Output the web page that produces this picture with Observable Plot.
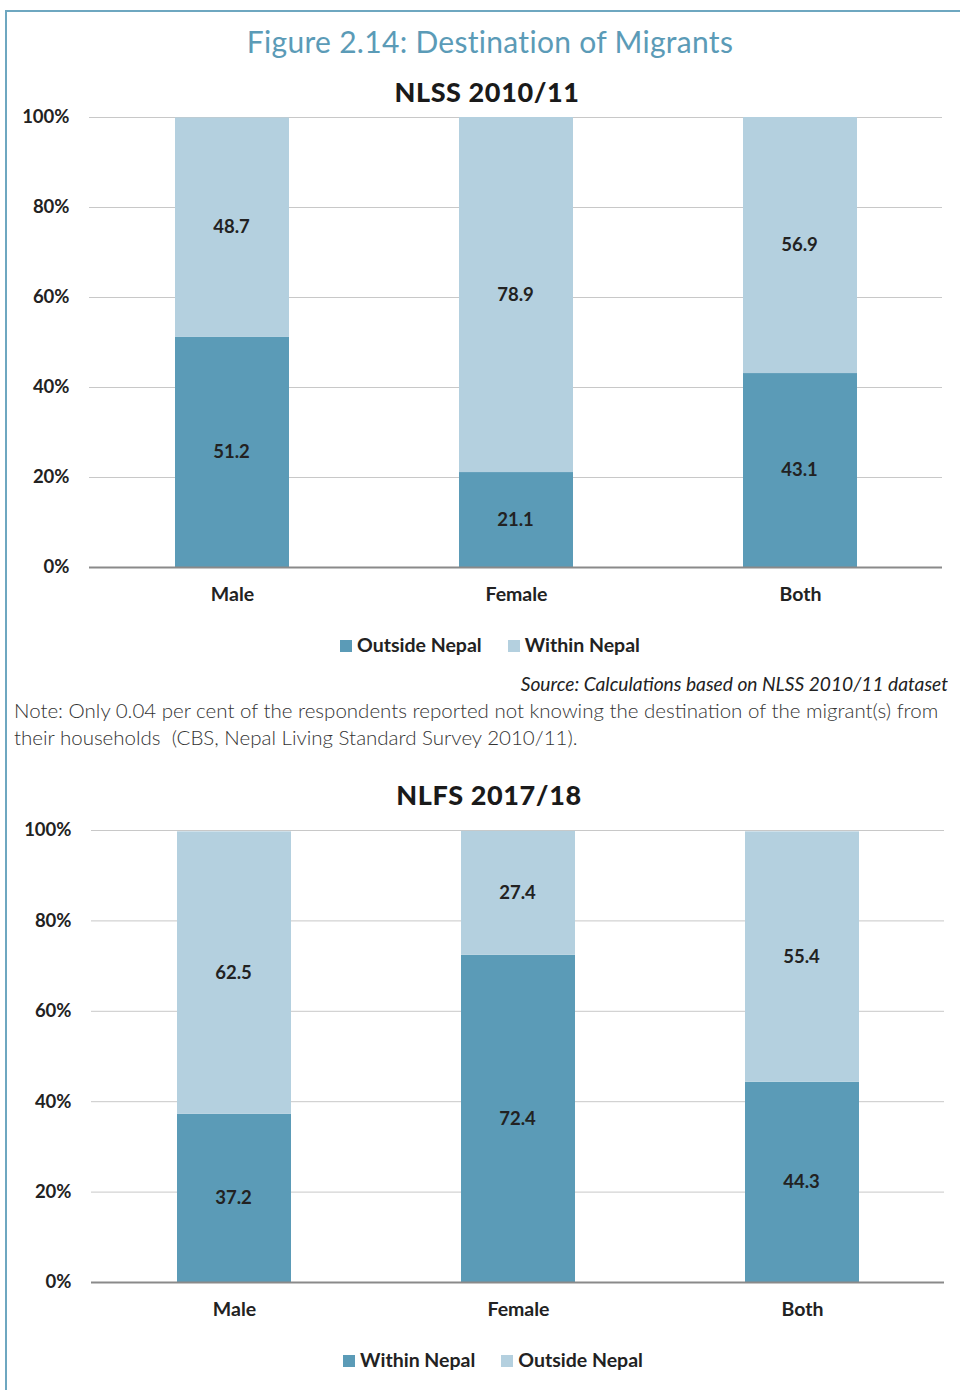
<!DOCTYPE html>
<html><head><meta charset="utf-8">
<script src="https://cdn.jsdelivr.net/npm/d3@7"></script>
<script src="https://cdn.jsdelivr.net/npm/@observablehq/plot@0.6"></script>
<style>
body{margin:0;background:#fff;}
#page{position:relative;width:960px;height:1390px;overflow:hidden;font-family:Lato,"Open Sans",sans-serif;color:#222;}
.frameTop{position:absolute;left:5px;top:10px;width:960px;height:2px;background:#6ea7c0;}
.frameLeft{position:absolute;left:5px;top:10px;width:2px;height:1390px;background:#6ea7c0;}
.abs{position:absolute;white-space:nowrap;}
.title{left:20px;width:940px;top:22px;text-align:center;font-size:30px;line-height:38px;color:#5b9bb7;letter-spacing:0.3px;}
.sub{width:960px;text-align:center;font-size:27px;font-weight:900;line-height:32px;color:#1a1a1a;letter-spacing:0.6px;}
.legend{width:960px;text-align:center;font-size:19.5px;font-weight:bold;line-height:24px;color:#222;}
.legend span.sw{display:inline-block;width:12px;height:12px;margin-right:5px;vertical-align:0px;}
.legend span.item{margin:0 13px;}
.source{right:12px;font-size:19.2px;font-style:italic;line-height:24px;color:#222;}
.note{left:14px;font-size:20.5px;line-height:27px;color:#333;font-weight:300;}
.chart{position:absolute;left:0;}
</style></head><body><div id="page">
<div class="frameTop"></div><div class="frameLeft"></div>
<div class="abs title">Figure 2.14: Destination of Migrants</div>
<div class="abs sub" style="left:7px;top:76px;">NLSS 2010/11</div>
<div class="chart" id="c1" style="top:100px;"></div>
<div class="abs legend" id="l1" style="left:10px;top:633px;"></div>
<div class="abs source" style="top:672px;">Source: Calculations based on NLSS 2010/11 dataset</div>
<div class="abs note" style="top:697px;">Note: Only 0.04 per cent of the respondents reported not knowing the destination of the migrant(s) from<br>their households&nbsp; (CBS, Nepal Living Standard Survey 2010/11).</div>
<div class="abs sub" style="left:9px;top:779px;">NLFS 2017/18</div>
<div class="chart" id="c2" style="top:813px;"></div>
<div class="abs legend" id="l2" style="left:13px;top:1348px;"></div>
</div>
<script>
const categories = ["Male", "Female", "Both"];
const nlssOutside = [51.2, 21.1, 43.1];
const nlssWithin = [48.7, 78.9, 56.9];
const nlfsWithin = [37.2, 72.4, 44.3];
const nlfsOutside = [62.5, 27.4, 55.4];
const yTicks = [0, 20, 40, 60, 80, 100];
const darkColor = "#5b9bb7";
const lightColor = "#b4d0df";

function makeChart(el, legendEl, s1Name, s1, s2Name, s2, m) {
  const data = [];
  categories.forEach((c, i) => data.push({cat: c, series: s1Name, value: s1[i]}));
  categories.forEach((c, i) => data.push({cat: c, series: s2Name, value: s2[i]}));
  const chart = Plot.plot({
    width: 960,
    height: 520,
    marginTop: 17,
    marginBottom: m.bottom,
    marginLeft: m.left,
    marginRight: m.right,
    style: {fontFamily: "Lato, sans-serif", fontSize: "18px", fontWeight: "bold", color: "#222", background: "transparent", overflow: "visible"},
    x: {domain: categories, paddingInner: 0.6, paddingOuter: 0.3, label: null},
    y: {domain: [0, 100], label: null},
    color: {domain: [s1Name, s2Name], range: [darkColor, lightColor]},
    marks: [
      Plot.ruleY(yTicks.filter(d => d > 0), {stroke: "#c8c8c8", strokeWidth: 1}),
      Plot.barY(data, Plot.stackY({x: "cat", y: "value", fill: "series"})),
      Plot.ruleY([0], {stroke: "#8a8a8a", strokeWidth: 2}),
      Plot.text(data, Plot.stackY({x: "cat", y: "value", z: "series", text: d => d.value.toFixed(1), fill: "#222", fontSize: 18.5, fontWeight: "bold", dx: -1})),
      Plot.axisY(yTicks, {tickSize: 0, tickPadding: 20, tickFormat: d => d + "%", fontSize: 18.5, fontWeight: "bold"}),
      Plot.axisX({tickSize: 0, tickPadding: 20, fontSize: 19.5, fontWeight: "bold", dx: m.labelDx})
    ]
  });
  el.appendChild(chart);
  const colors = {[s1Name]: darkColor, [s2Name]: lightColor};
  legendEl.innerHTML = [s1Name, s2Name].map(n => `<span class="item"><span class="sw" style="background:${colors[n]}"></span>${n}</span>`).join("");
}

makeChart(document.getElementById("c1"), document.getElementById("l1"), "Outside Nepal", nlssOutside, "Within Nepal", nlssWithin, {bottom: 53, left: 89, right: 18, labelDx: 0});
makeChart(document.getElementById("c2"), document.getElementById("l2"), "Within Nepal", nlfsWithin, "Outside Nepal", nlfsOutside, {bottom: 51, left: 91, right: 16, labelDx: 0});
</script>
</body></html>
